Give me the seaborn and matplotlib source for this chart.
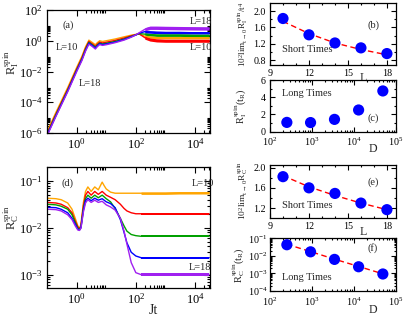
import numpy as np
import pandas as pd
import matplotlib
matplotlib.use("Agg")
import matplotlib.pyplot as plt
import seaborn as sns
from matplotlib.ticker import FixedLocator, NullFormatter, LogFormatterMathtext

# ---------------- data ----------------
L_sizes = [10, 12, 14, 16, 18]
colors = ["#ffa500", "#ff0000", "#00a000", "#0000ff", "#a020f0"]

# panel (a): R_I^spin(t)
t_a = [0.1, 0.2, 0.5, 1.0, 1.5, 2.0, 2.6, 3.3, 4.3, 5.0, 6.0, 7.5, 10, 20, 40, 70,
       100, 130, 200, 300, 500, 1000, 3000, 10000, 30000]
Ra_L10 = [1.2e-6, 2.2e-5, 9.0e-4, 0.018, 0.095, 0.40, 1.1, 0.8, 0.55, 0.75, 1.0, 0.9, 1.0,
          1.3, 1.8, 2.3, 2.6, 2.7, 2.0, 1.7, 1.6, 1.55, 1.55, 1.55, 1.55]
Ra_L12 = [9.4e-7, 1.7e-5, 7.0e-4, 0.014, 0.075, 0.32, 0.9, 0.65, 0.44, 0.6, 0.82, 0.72, 0.8,
          1.05, 1.5, 2.1, 2.5, 2.8, 1.6, 1.2, 1.05, 1.0, 1.0, 1.0, 1.0]
Ra_L14 = [8.0e-7, 1.5e-5, 6.0e-4, 0.012, 0.064, 0.27, 0.78, 0.56, 0.38, 0.52, 0.7, 0.62, 0.68,
          0.9, 1.3, 1.9, 2.4, 2.9, 2.7, 2.5, 2.3, 2.3, 2.3, 2.2, 2.2]
Ra_L16 = [7.2e-7, 1.3e-5, 5.4e-4, 0.011, 0.057, 0.24, 0.7, 0.5, 0.33, 0.47, 0.64, 0.56, 0.62,
          0.82, 1.2, 1.8, 2.4, 3.1, 3.9, 3.7, 3.5, 3.4, 3.4, 3.3, 3.3]
Ra_L18 = [6.4e-7, 1.2e-5, 4.8e-4, 0.0095, 0.05, 0.21, 0.6, 0.44, 0.29, 0.41, 0.56, 0.5, 0.55,
          0.75, 1.1, 1.7, 2.4, 3.3, 5.5, 7.0, 7.0, 6.8, 6.6, 6.4, 6.3]
Ra_spread = [0.07, 0.10, 0.08, 0.08, 0.11]   # late-time fluctuation half-width (decades)

# panel (d): R_C^spin(t)
t_d = [0.1, 0.2, 0.3, 0.5, 0.7, 0.9, 1.1, 1.25, 1.4, 1.7, 2.0, 2.4, 3.1, 4.1, 5.4, 7.3,
       8.5, 10, 14, 20, 30, 40, 50, 70, 100, 150, 300, 1000, 3000, 10000, 30000]
Rd_L10 = [0.043, 0.042, 0.040, 0.034, 0.025, 0.016, 0.011, 0.0095, 0.012, 0.035, 0.060, 0.075,
          0.060, 0.075, 0.065, 0.095, 0.080, 0.068, 0.058, 0.055, 0.055, 0.055, 0.055, 0.055,
          0.055, 0.055, 0.055, 0.055, 0.056, 0.056, 0.056]
Rd_L12 = [0.035, 0.034, 0.032, 0.027, 0.021, 0.014, 0.0105, 0.0095, 0.011, 0.030, 0.050, 0.060,
          0.050, 0.060, 0.052, 0.060, 0.055, 0.050, 0.045, 0.040, 0.032, 0.026, 0.023, 0.021,
          0.020, 0.020, 0.020, 0.020, 0.020, 0.020, 0.020]
Rd_L14 = [0.032, 0.031, 0.029, 0.025, 0.019, 0.013, 0.0098, 0.0092, 0.0105, 0.026, 0.042, 0.050,
          0.043, 0.050, 0.044, 0.050, 0.046, 0.042, 0.036, 0.026, 0.016, 0.011, 0.0085, 0.0072,
          0.0068, 0.0066, 0.0066, 0.0066, 0.0066, 0.0066, 0.0066]
Rd_L16 = [0.0275, 0.027, 0.025, 0.021, 0.016, 0.012, 0.0093, 0.0090, 0.010, 0.024, 0.038, 0.043,
          0.038, 0.043, 0.039, 0.042, 0.039, 0.036, 0.033, 0.027, 0.015, 0.008, 0.0048, 0.0030,
          0.0025, 0.0023, 0.0023, 0.0023, 0.0023, 0.0023, 0.0023]
Rd_L18 = [0.025, 0.0245, 0.023, 0.019, 0.015, 0.011, 0.0090, 0.0088, 0.0098, 0.022, 0.034, 0.040,
          0.035, 0.039, 0.035, 0.037, 0.034, 0.031, 0.028, 0.024, 0.016, 0.0085, 0.0045, 0.0018,
          0.0011, 0.0010, 0.0010, 0.0010, 0.0010, 0.0010, 0.0010]
Rd_spread = [0.025, 0.025, 0.025, 0.025, 0.025]

# panel (b)
b_L = [10, 12, 14, 16, 18]
b_val = [1.82, 1.42, 1.22, 1.10, 0.96]
b_fit = [1.75, 1.45, 1.22, 1.06, 0.93]
# panel (c)
D_vals = [252, 924, 3432, 12870, 48620]
c_val = [1.08, 1.06, 1.43, 2.52, 4.73]
# panel (e)
e_val = [1.82, 1.60, 1.49, 1.30, 1.17]
e_fit = [1.84, 1.62, 1.45, 1.30, 1.17]
# panel (f)
f_val = [0.043, 0.017, 0.0063, 0.0024, 0.00093]
f_fit = [0.046, 0.0175, 0.0065, 0.0025, 0.00095]

# ---------------- style ----------------
sns.set_theme(style="ticks")
plt.rcParams["font.family"] = ["Liberation Serif", "DejaVu Serif"]
plt.rcParams["mathtext.fontset"] = "custom"
plt.rcParams["mathtext.rm"] = "Liberation Serif"
plt.rcParams["mathtext.it"] = "Liberation Serif:italic"
plt.rcParams["mathtext.default"] = "regular"
plt.rcParams["axes.linewidth"] = 0.9

W, H = 407.0, 316.0
fig = plt.figure(figsize=(W / 100, H / 100), dpi=100)


def rect(l, t, r, b):
    return [l / W, 1 - b / H, (r - l) / W, (b - t) / H]


ax_a = fig.add_axes(rect(47, 10, 210, 133))
ax_d = fig.add_axes(rect(47, 167, 210, 287.5))
ax_b = fig.add_axes(rect(270, 3, 396, 65))
ax_c = fig.add_axes(rect(270, 80, 396, 131.7))
ax_e = fig.add_axes(rect(270, 165, 396, 218.3))
ax_f = fig.add_axes(rect(270, 238.3, 396, 291))

pal = dict(zip(L_sizes, colors))
FT = fig.transFigure


def fx(x):
    return x / W


def fy(y):
    return 1 - y / H


def long_df(t, series):
    return pd.DataFrame({
        "t": np.tile(t, len(series)),
        "R": np.concatenate(series),
        "L": np.repeat(L_sizes, len(t)),
    })


def style_ticks(ax, main=True, fs=8.5):
    ml = 4.5 if main else 3.5
    ax.tick_params(which="both", direction="in", top=True, right=True, width=0.8,
                   labelsize=fs, pad=3, colors="black")
    ax.tick_params(which="major", length=ml)
    ax.tick_params(which="minor", length=ml * 0.5)
    for s in ax.spines.values():
        s.set_color("black")


def log_ticks(ax, axis, majors, minor_decades):
    minors = [k * m for m in minor_decades for k in range(2, 10)]
    a = ax.xaxis if axis == "x" else ax.yaxis
    a.set_major_locator(FixedLocator(majors))
    a.set_major_formatter(LogFormatterMathtext())
    a.set_minor_locator(FixedLocator(minors))
    a.set_minor_formatter(NullFormatter())


txt = dict(fontsize=7.5, ha="center", va="center", clip_on=False, transform=FT)

# ---------------- panel (a) ----------------
ax_a.set_xscale("log")
ax_a.set_yscale("log")
Ra_all = [Ra_L10, Ra_L12, Ra_L14, Ra_L16, Ra_L18]
sns.lineplot(data=long_df(t_a, Ra_all), x="t", y="R", hue="L", palette=pal,
             estimator=None, sort=False, legend=False, lw=1.0, ax=ax_a)
for R, c, w in zip(Ra_all, colors, Ra_spread):
    tt = np.array(t_a[18:])
    rr = np.array(R[18:])
    ax_a.fill_between(tt, rr * 10 ** (-w), rr * 10 ** w, color=c, lw=0)
ax_a.set_xlim(0.1, 3.2e4)
ax_a.set_ylim(1e-6, 1e2)
log_ticks(ax_a, "x", [1, 1e2, 1e4], [1, 1e2, 1e4])
log_ticks(ax_a, "y", [1e-6, 1e-4, 1e-2, 1, 1e2], [1e-6, 1e-4, 1e-2, 1])
style_ticks(ax_a, fs=9)
ax_a.set_xlabel("")
ax_a.set_ylabel(r"$R_I^{spin}$", fontsize=9)
ax_a.yaxis.set_label_coords(fx(21), fy(63), transform=FT)
ax_a.text(fx(68), fy(25), "(a)", **txt)
ax_a.text(fx(67), fy(48), "L=10", **txt)
ax_a.text(fx(90), fy(83), "L=18", **txt)
ax_a.text(fx(201), fy(22), "L=18", **txt)
ax_a.text(fx(201), fy(47), "L=10", **txt)

# ---------------- panel (d) ----------------
ax_d.set_xscale("log")
ax_d.set_yscale("log")
Rd_all = [Rd_L10, Rd_L12, Rd_L14, Rd_L16, Rd_L18]
sns.lineplot(data=long_df(t_d, Rd_all), x="t", y="R", hue="L", palette=pal,
             estimator=None, sort=False, legend=False, lw=1.0, ax=ax_d)
for R, c, w in zip(Rd_all, colors, Rd_spread):
    tt = np.array(t_d[25:])
    rr = np.array(R[25:])
    ax_d.fill_between(tt, rr * 10 ** (-w), rr * 10 ** w, color=c, lw=0)
ax_d.set_xlim(0.1, 3.2e4)
ax_d.set_ylim(5.3e-4, 0.2)
log_ticks(ax_d, "x", [1, 1e2, 1e4], [1, 1e2, 1e4])
log_ticks(ax_d, "y", [1e-3, 1e-2, 1e-1], [1e-4, 1e-3, 1e-2, 1e-1])
style_ticks(ax_d, fs=9)
ax_d.set_xlabel("Jt", fontsize=10)
ax_d.xaxis.set_label_coords(fx(153), fy(304), transform=FT)
ax_d.set_ylabel(r"$R_C^{spin}$", fontsize=9)
ax_d.yaxis.set_label_coords(fx(21), fy(218), transform=FT)
ax_d.text(fx(67), fy(183), "(d)", **txt)
ax_d.text(fx(203), fy(183), "L=10", **txt)
ax_d.text(fx(200), fy(267), "L=18", **txt)

# ---------------- right panels ----------------
mk = dict(color="#0000ff", s=65, edgecolor="none", zorder=3)
fitkw = dict(color="red", lw=1.0, linestyle=(0, (4, 2.5)), zorder=2)
rfs = 7.2

# (b)
sns.lineplot(x=b_L, y=b_fit, ax=ax_b, **fitkw)
sns.scatterplot(x=b_L, y=b_val, ax=ax_b, **mk)
ax_b.set_xlim(9, 18.7)
ax_b.set_ylim(0.68, 2.2)
ax_b.xaxis.set_major_locator(FixedLocator([9, 12, 15, 18]))
ax_b.xaxis.set_minor_locator(FixedLocator([10, 11, 13, 14, 16, 17]))
ax_b.yaxis.set_major_locator(FixedLocator([0.8, 1.2, 1.6, 2.0]))
ax_b.yaxis.set_minor_locator(FixedLocator([1.0, 1.4, 1.8]))
ax_b.set_yticklabels(["0.8", "1.2", "1.6", "2.0"])
style_ticks(ax_b, main=False, fs=rfs)
ax_b.set_xlabel("L", fontsize=8.5)
ax_b.xaxis.set_label_coords(fx(363), fy(72), transform=FT)
ax_b.set_ylabel(r"$10^2lim_{t\rightarrow0}R_I^{spin}/t^4$", fontsize=6.6)
ax_b.yaxis.set_label_coords(fx(250), fy(34), transform=FT)
ax_b.text(fx(373), fy(25), "(b)", **txt)
ax_b.text(fx(307), fy(49), "Short Times", **txt)

# (c)
ax_c.set_xscale("log")
sns.scatterplot(x=D_vals, y=c_val, ax=ax_c, **mk)
ax_c.set_xlim(1e2, 1e5)
ax_c.set_ylim(0, 6)
log_ticks(ax_c, "x", [1e2, 1e3, 1e4, 1e5], [1e2, 1e3, 1e4])
ax_c.yaxis.set_major_locator(FixedLocator([0, 2, 4, 6]))
ax_c.yaxis.set_minor_locator(FixedLocator([1, 3, 5]))
ax_c.set_yticklabels(["0", "2", "4", "6"])
style_ticks(ax_c, main=False, fs=rfs)
ax_c.set_xlabel("D", fontsize=8.5)
ax_c.xaxis.set_label_coords(fx(373), fy(143), transform=FT)
ax_c.set_ylabel(r"$R_I^{spin}(t_R)$", fontsize=7.5)
ax_c.yaxis.set_label_coords(fx(249), fy(106), transform=FT)
ax_c.text(fx(307), fy(94), "Long Times", **txt)
ax_c.text(fx(373), fy(118), "(c)", **txt)

# (e)
sns.lineplot(x=b_L, y=e_fit, ax=ax_e, **fitkw)
sns.scatterplot(x=b_L, y=e_val, ax=ax_e, **mk)
ax_e.set_xlim(9, 18.7)
ax_e.set_ylim(1.0, 2.05)
ax_e.xaxis.set_major_locator(FixedLocator([9, 12, 15, 18]))
ax_e.xaxis.set_minor_locator(FixedLocator([10, 11, 13, 14, 16, 17]))
ax_e.yaxis.set_major_locator(FixedLocator([1.2, 1.6, 2.0]))
ax_e.yaxis.set_minor_locator(FixedLocator([1.4, 1.8]))
ax_e.set_yticklabels(["1.2", "1.6", "2.0"])
style_ticks(ax_e, main=False, fs=rfs)
ax_e.set_xlabel("L", fontsize=8.5)
ax_e.xaxis.set_label_coords(fx(363), fy(226), transform=FT)
ax_e.set_ylabel(r"$10^2lim_{t\rightarrow0}R_C^{spin}$", fontsize=6.8)
ax_e.yaxis.set_label_coords(fx(250), fy(190), transform=FT)
ax_e.text(fx(373), fy(182), "(e)", **txt)
ax_e.text(fx(307), fy(206), "Short Times", **txt)

# (f)
ax_f.set_xscale("log")
ax_f.set_yscale("log")
sns.lineplot(x=D_vals, y=f_fit, ax=ax_f, **fitkw)
sns.scatterplot(x=D_vals, y=f_val, ax=ax_f, **mk)
ax_f.set_xlim(1e2, 1e5)
ax_f.set_ylim(1e-4, 1e-1)
log_ticks(ax_f, "x", [1e2, 1e3, 1e4, 1e5], [1e2, 1e3, 1e4])
log_ticks(ax_f, "y", [1e-4, 1e-3, 1e-2, 1e-1], [1e-4, 1e-3, 1e-2])
style_ticks(ax_f, main=False, fs=rfs)
ax_f.tick_params(axis="y", pad=2)
ax_f.set_xlabel("D", fontsize=8.5)
ax_f.xaxis.set_label_coords(fx(373), fy(304), transform=FT)
ax_f.set_ylabel(r"$R_C^{spin}(t_R)$", fontsize=7.5)
ax_f.yaxis.set_label_coords(fx(247), fy(265), transform=FT)
ax_f.text(fx(373), fy(248), "(f)", **txt)
ax_f.text(fx(307), fy(277), "Long Times", **txt)

fig.savefig("out.png", dpi=100)
